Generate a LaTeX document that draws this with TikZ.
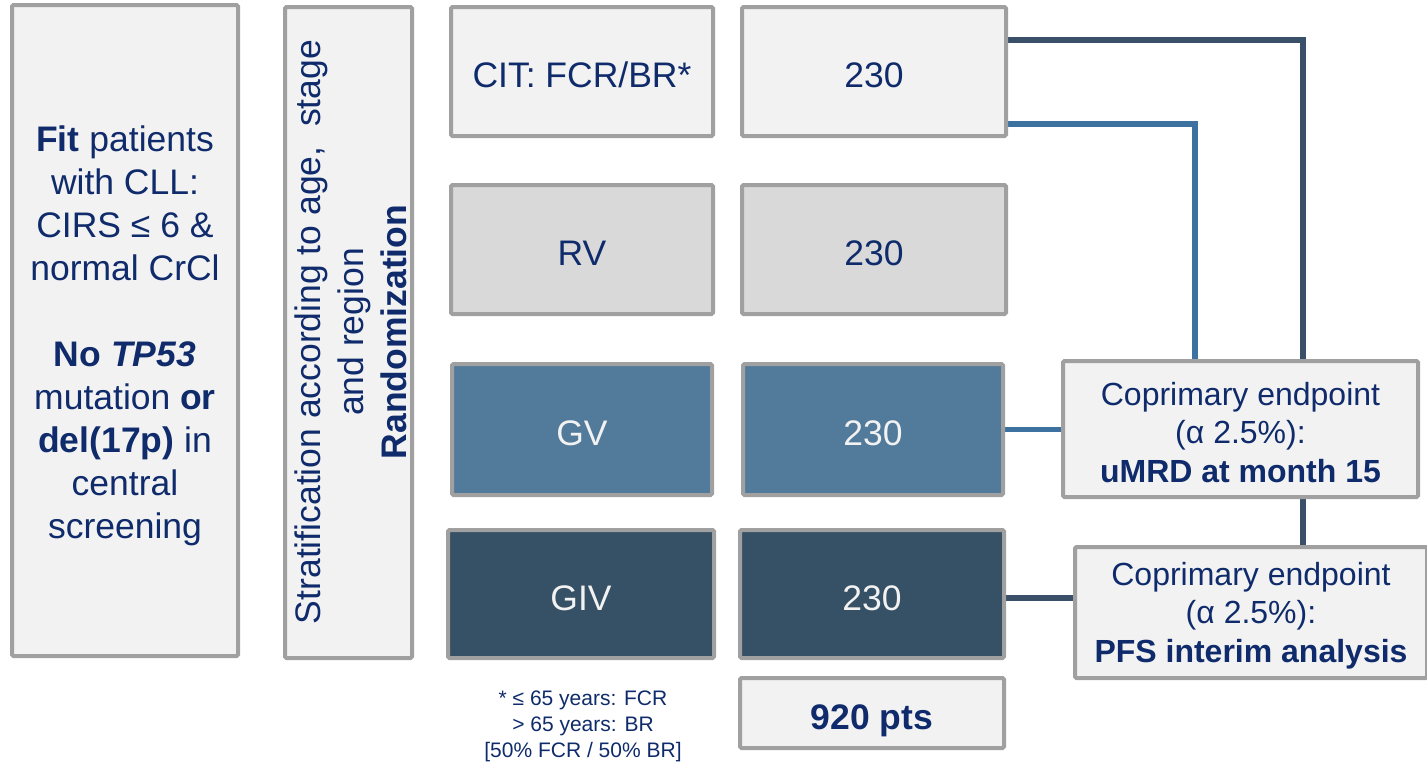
\documentclass[tikz,border=0pt]{standalone}
\usepackage{fontspec}
\setmainfont{Liberation Sans}
\usetikzlibrary{calc}
\definecolor{navy}{HTML}{0F2B6B}
\definecolor{bordergray}{HTML}{A0A0A0}
\definecolor{lightfill}{HTML}{F2F2F2}
\definecolor{midfill}{HTML}{D9D9D9}
\definecolor{gvfill}{HTML}{527A9B}
\definecolor{givfill}{HTML}{365066}
\definecolor{darkline}{HTML}{3A5068}
\definecolor{blueline}{HTML}{3D72A0}
\pgfdeclarelayer{bg}
\pgfsetlayers{bg,main}
\begin{document}
\begin{tikzpicture}[x=1pt,y=-1pt,
  box/.style={draw=bordergray, line width=4pt, rectangle, rounded corners=1.5pt, inner sep=0pt,
    text=navy, align=center, font=\fontsize{35.5}{43}\selectfont},
  onelinebox/.style={box, text height=32pt, text depth=0pt},
  armbox/.style={onelinebox, minimum width=262pt, minimum height=129pt},
  numbox/.style={onelinebox, minimum width=264pt, minimum height=129pt},
  epbox/.style={box, fill=lightfill, font=\fontsize{32}{38.5}\selectfont},
  darkconn/.style={draw=darkline, line width=5.5pt},
  blueconn/.style={draw=blueline, line width=5.5pt},
  plaintext/.style={text=navy, align=center, inner sep=0pt}
]
\useasboundingbox (0,0) rectangle (1427,763);

% left column
\node[box, fill=lightfill, minimum width=226pt, minimum height=651pt] (fit) at (125,330.5)
  {\rule{0pt}{36pt}\textbf{Fit} patients\\with CLL:\\CIRS ≤ 6 \&\\normal CrCl\\[43pt]\textbf{No} \textbf{\textit{TP53}}\\mutation \textbf{or}\\\textbf{del(17p)} in\\central\\screening};

\node[box, fill=lightfill, minimum width=127pt, minimum height=651pt] (strat) at (348.5,332.5) {};
\node[plaintext, rotate=90, font=\fontsize{35.5}{43}\selectfont] (strattxt) at (351,332)
  {Stratification according to age,\ \ stage\\and region\hspace{50pt}\\\textbf{Randomization}};

% arms
\node[armbox, fill=lightfill] (cit) at (582,71.5) {CIT: FCR/BR*};
\node[numbox, fill=lightfill] (n1) at (874,71.5) {230};
\node[armbox, fill=midfill] (rv) at (582,249.5) {RV};
\node[numbox, fill=midfill] (n2) at (874,249.5) {230};
\node[armbox, fill=gvfill, text=lightfill, minimum width=260pt, minimum height=131pt] (gv) at (582,429.5) {GV};
\node[numbox, fill=gvfill, text=lightfill, minimum width=260pt, minimum height=131pt] (n3) at (873,429.5) {230};
\node[armbox, fill=givfill, text=lightfill, minimum width=266pt, minimum height=128pt] (giv) at (581,594) {GIV};
\node[numbox, fill=givfill, text=lightfill, minimum height=128pt] (n4) at (872,594) {230};
\node[numbox, fill=lightfill, minimum height=70pt] (tot) at (872,713) {\textbf{920 pts}};

\node[plaintext, font=\fontsize{21}{26}\selectfont] (note) at (583,722)
  {\rule{0pt}{24pt}* ≤ 65 years: FCR\\> 65 years: BR\\{}[50\% FCR / 50\% BR]};

% endpoints
\node[epbox, minimum width=355pt, minimum height=136pt] (ep1) at (1240.5,429)
  {\rule{0pt}{29.5pt}Coprimary endpoint\\(α 2.5\%):\\\textbf{uMRD at month 15}};
\node[epbox, minimum width=352pt, minimum height=131pt] (ep2) at (1251,612.5)
  {\rule{0pt}{29.5pt}Coprimary endpoint\\(α 2.5\%):\\\textbf{PFS interim analysis}};

% connectors
\begin{pgfonlayer}{bg}
\draw[darkconn] ([yshift=31.5pt]n1.east) -| ([xshift=52pt]ep2.north);
\draw[blueconn] ([yshift=-52.5pt]n1.east) -| ([xshift=-45.5pt]ep1.north);
\draw[blueconn] (n3.east) -- (n3.east -| ep1.west);
\draw[darkconn] ([yshift=-4pt]n4.east) -- ([yshift=-4pt]n4.east -| ep2.west);
\end{pgfonlayer}
\end{tikzpicture}
\end{document}
